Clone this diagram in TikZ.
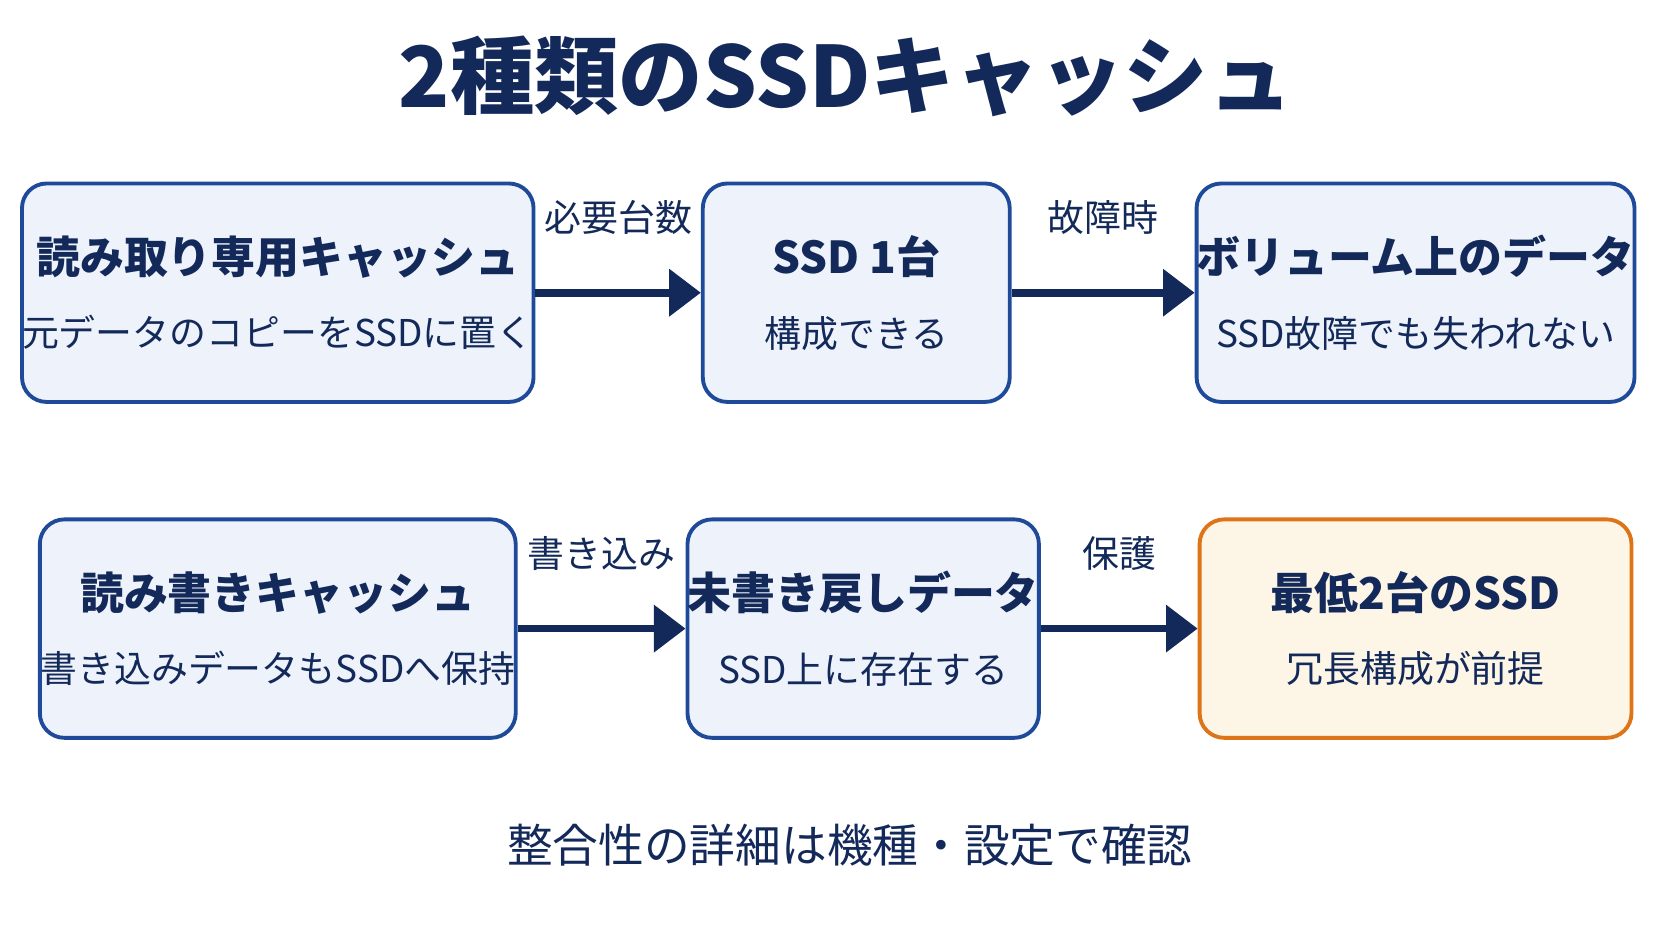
\documentclass[tikz,border=0pt]{standalone}
\usepackage{fontspec}
\setmainfont{Noto Sans CJK JP}
\usetikzlibrary{arrows.meta,positioning}
\definecolor{navy}{HTML}{13295A}
\definecolor{boxline}{HTML}{1F4A9A}
\definecolor{boxfill}{HTML}{EEF3FB}
\definecolor{warnline}{HTML}{DD7418}
\definecolor{warnfill}{HTML}{FDF5E6}

\tikzset{
  stage/.style={draw=boxline, fill=boxfill, line width=1.1pt, rounded corners=7pt,
    minimum height=2.185cm, align=center, text=navy, inner sep=0pt},
  warn/.style={stage, draw=warnline, fill=warnfill},
  flow/.style={-{Triangle[length=9pt,width=13pt]}, navy, line width=2.2pt},
  flowlabel/.style={text=navy, font=\fontsize{10.5}{12}\selectfont},
}
\newcommand{\stagetext}[2]{{\fontsize{12.5}{15}\selectfont\bfseries #1}\\[9pt]{\fontsize{10.5}{12}\selectfont #2}}

\begin{document}
\begin{tikzpicture}[x=0.01066cm,y=-0.01066cm]
\useasboundingbox[fill=white] (0,0) rectangle (1568,882);

% Title
\node[text=navy, font=\fontsize{24}{28}\selectfont\bfseries] (title) at (793,72) {2種類のSSDキャッシュ};

% Read-only cache
\node[stage, minimum width=4.76cm] (ro) at (260.5,274.5) {\stagetext{読み取り専用キャッシュ}{元データのコピーをSSDに置く}};
\node[stage, minimum width=3.07cm] (one) at (803,274.5) {\stagetext{SSD 1台}{構成できる}};
\node[stage, minimum width=4.32cm] (safe) at (1327.5,274.5) {\stagetext{ボリューム上のデータ}{SSD故障でも失われない}};

% Read-write cache
\node[stage, minimum width=4.76cm] (rw) at (260.5,589.5) {\stagetext{読み書きキャッシュ}{書き込みデータもSSDへ保持}};
\node[stage, minimum width=3.21cm] (dirty) at (809.5,589.5) {\stagetext{未書き戻しデータ}{SSD上に存在する}};
\node[warn, minimum width=4.32cm] (two) at (1327.5,589.5) {\stagetext{最低2台のSSD}{冗長構成が前提}};

% Connectors
\draw[flow] (ro) -- node[flowlabel, above=12pt] {必要台数} (one);
\draw[flow] (one) -- node[flowlabel, above=12pt] {故障時} (safe);
\draw[flow] (rw) -- node[flowlabel, above=12pt] {書き込み} (dirty);
\draw[flow] (dirty) -- node[flowlabel, above=12pt] {保護} (two);

% Note
\node[text=navy, font=\fontsize{13}{16}\selectfont] (note) at (797,793) {整合性の詳細は機種・設定で確認};
\end{tikzpicture}
\end{document}
